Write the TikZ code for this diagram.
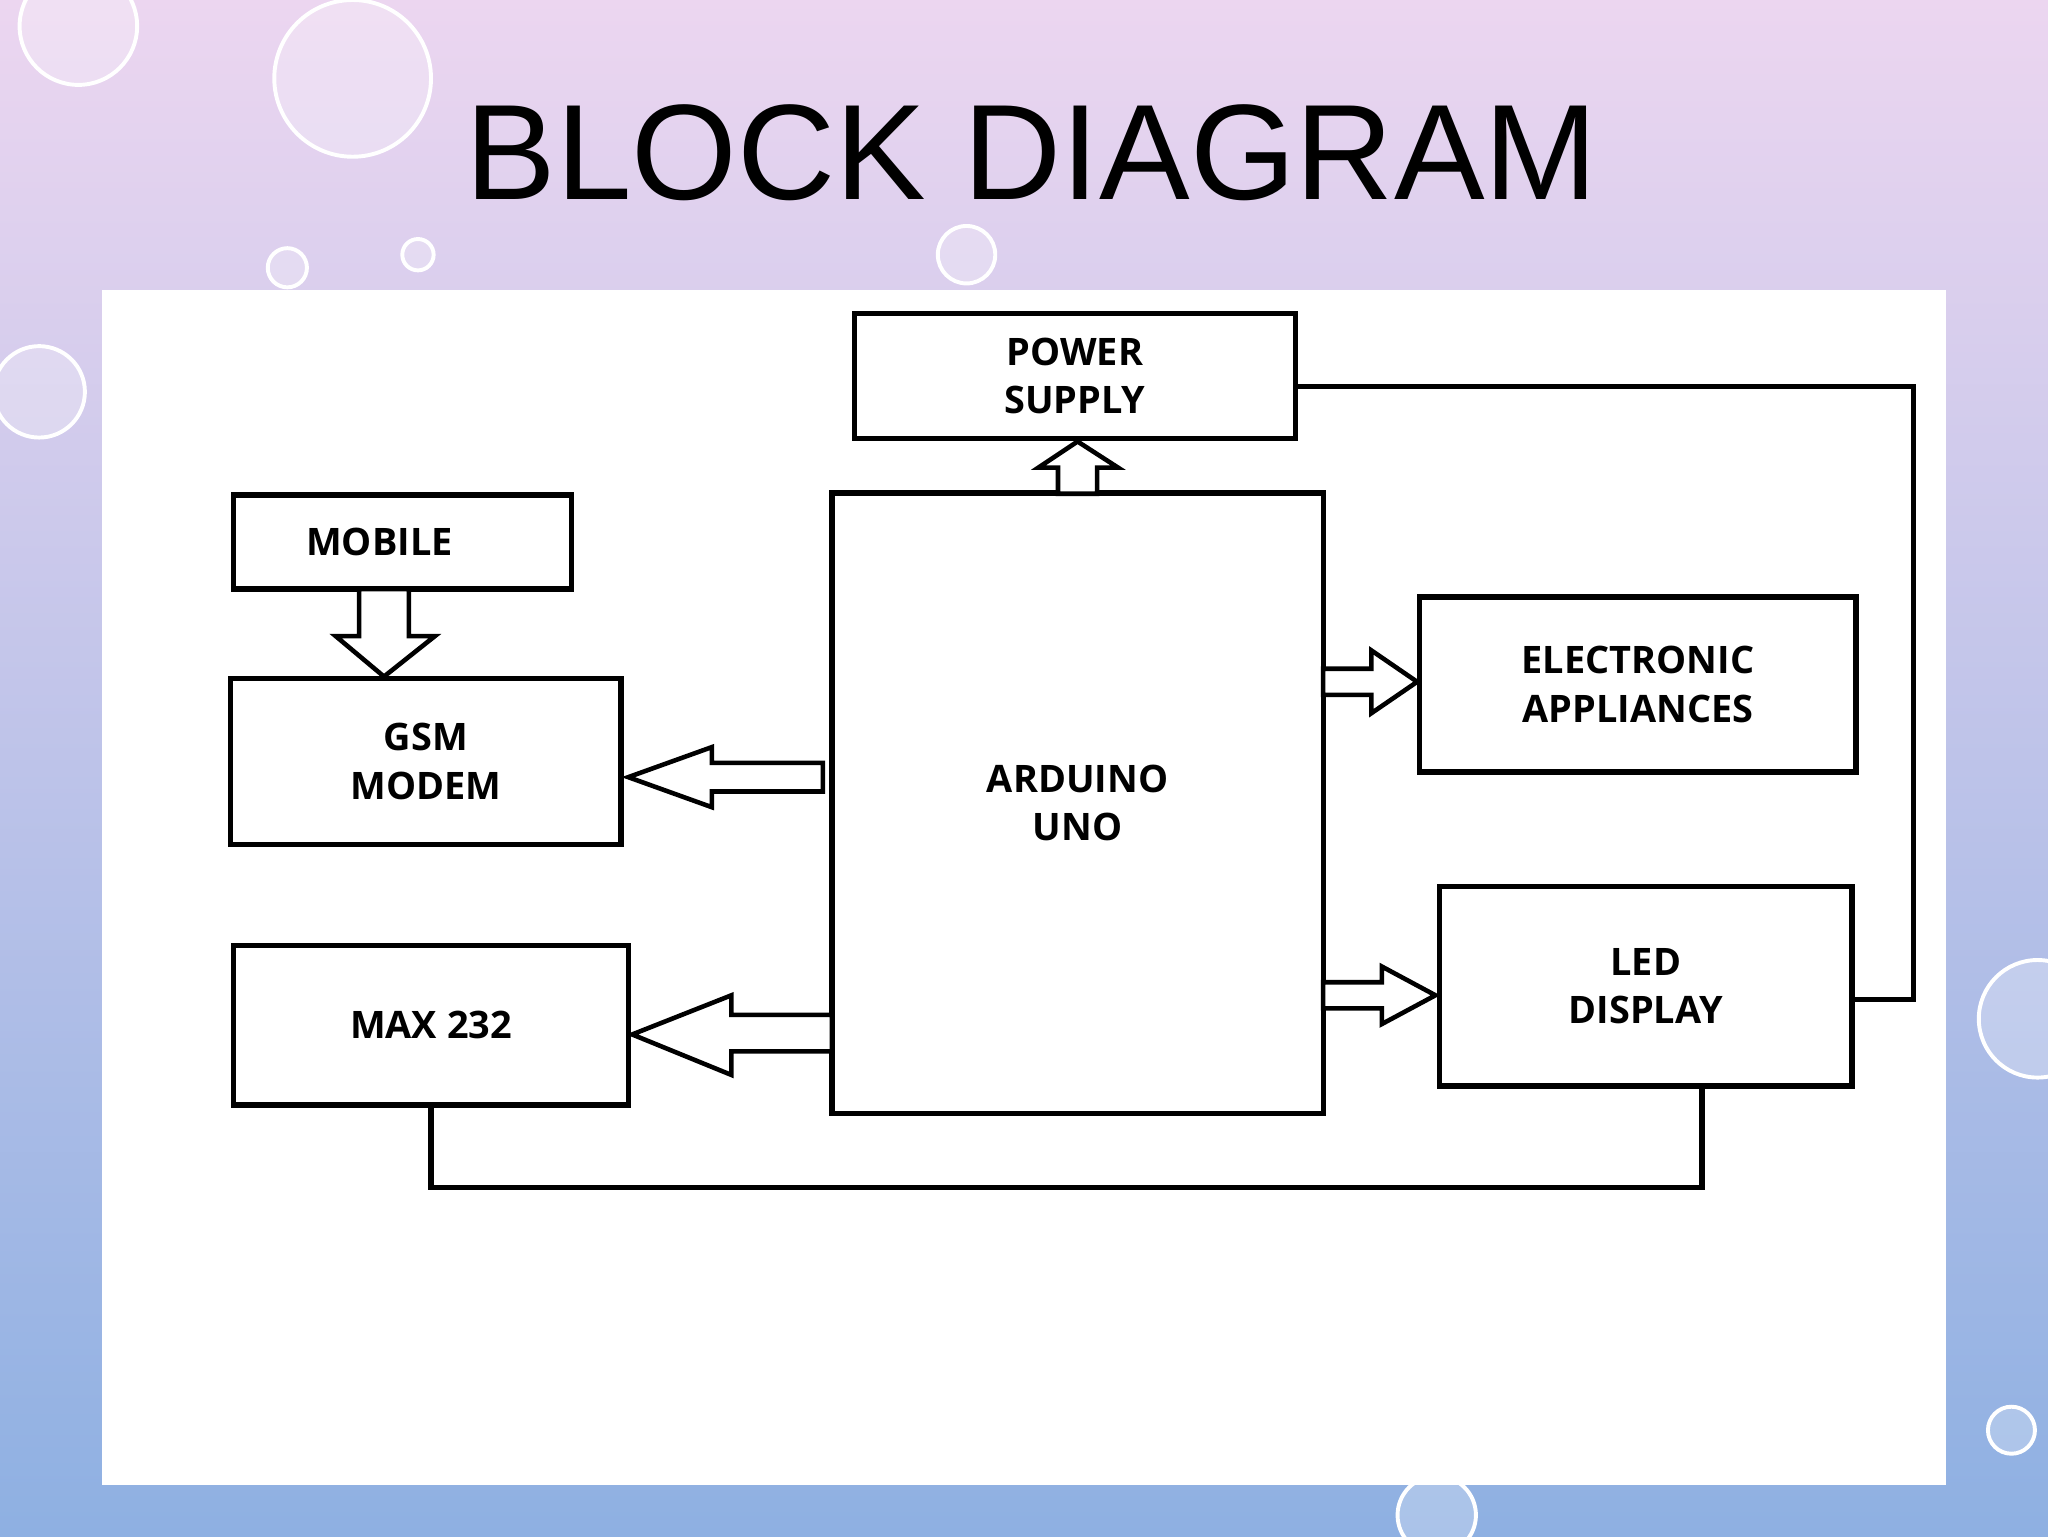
\documentclass[tikz,border=0pt]{standalone}
\usepackage{fontspec}
\setmainfont{Liberation Sans}
\newfontfamily\boxfont{Open Sans}
\begin{document}
\begin{tikzpicture}[x=1pt,y=-1pt,
  box/.style={draw,line width=4pt,rectangle,inner sep=0pt,align=center,
    font=\boxfont\bfseries\fontsize{29}{37}\selectfont},
  barrow/.style={draw,line width=3.5pt,fill=white,line join=miter},
  wire/.style={draw,line width=4pt}]
\useasboundingbox (0,0) rectangle (1568,1176);
% background
\shade[top color={rgb,255:red,236;green,214;blue,240},bottom color={rgb,255:red,142;green,176;blue,226}]
  (0,0) rectangle (1568,1176);
\foreach \cx/\cy/\r in {270/60/60, 60/20/45, 30/300/35, 220/205/15, 320/195/12, 740/195/22, 1560/780/45, 1540/1095/18, 1100/1160/30}
  \draw[white,line width=3pt,fill=white,fill opacity=0.25] (\cx,\cy) circle (\r);
% title
\node[font=\fontsize{104}{110}\selectfont] (title) at (790,117) {BLOCK DIAGRAM};
% panel
\fill[white] (78,222) rectangle (1490,1137);
% blocks
\node[box,minimum width=338pt,minimum height=96pt] (ps) at (823,288) {POWER\\SUPPLY};
\node[box,minimum width=259pt,minimum height=72pt] (mob) at (308,415) {MOBILE\hspace*{35pt}};
\node[box,minimum width=299pt,minimum height=127pt] (gsm) at (326,583) {GSM\\MODEM};
\node[box,minimum width=302pt,minimum height=122pt] (max) at (330,785) {MAX 232};
\node[box,minimum width=376pt,minimum height=475pt] (ard) at (825,615) {ARDUINO\\UNO};
\node[box,minimum width=334pt,minimum height=134pt] (el) at (1254,524) {ELECTRONIC\\APPLIANCES};
\node[box,minimum width=316pt,minimum height=153pt] (led) at (1260,755) {LED\\DISPLAY};
% wires
\coordinate (c1) at (1465,296);
\coordinate (c2) at (1465,765);
\draw[wire] (ps.east |- c1) -- (c1) -- (c2) -- (led.east |- c2);
\coordinate (m1) at (330,909);
\coordinate (m2) at (1303,909);
\draw[wire] (m1 |- max.south) -- (m1) -- (m2) -- (m2 |- led.south);
% block arrows
\draw[barrow] (810,378) -- (810,358) -- (795,358) -- (825,338) -- (856,358) -- (840,358) -- (840,378) -- cycle;
\draw[barrow] (275,451) -- (275,487) -- (257,487) -- (294,518) -- (333,487) -- (313,487) -- (313,451) -- cycle;
\draw[barrow] (630,584) -- (545,584) -- (545,572) -- (481,595) -- (545,618) -- (545,606) -- (630,606) -- cycle;
\draw[barrow] (637,777) -- (560,777) -- (560,762) -- (484,792) -- (560,823) -- (560,805) -- (637,805) -- cycle;
\draw[barrow] (1013,512) -- (1050,512) -- (1050,498) -- (1085,522) -- (1050,546) -- (1050,532) -- (1013,532) -- cycle;
\draw[barrow] (1013,752) -- (1058,752) -- (1058,740) -- (1099,762) -- (1058,784) -- (1058,772) -- (1013,772) -- cycle;
\end{tikzpicture}
\end{document}
